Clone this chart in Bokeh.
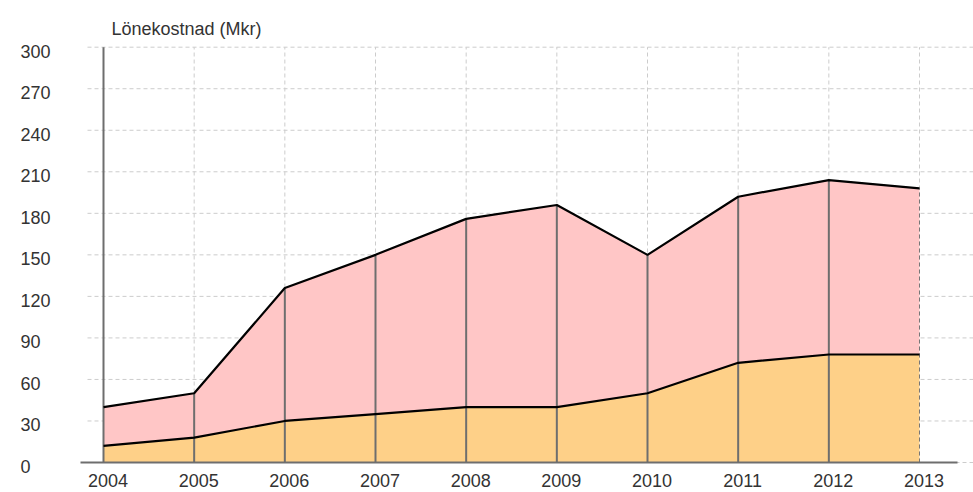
from bokeh.plotting import figure
from bokeh.models import ColumnDataSource, LabelSet, Label
from bokeh.core.properties import value
from bokeh.embed import file_html
from bokeh.resources import INLINE

# ---- data ----
years = [2004, 2005, 2006, 2007, 2008, 2009, 2010, 2011, 2012, 2013]
lower = [12, 18, 30, 35, 40, 40, 50, 72, 78, 78]          # orange series
upper = [28, 32, 96, 115, 136, 146, 100, 120, 126, 120]   # pink series (stacked on top)
y_ticks = [0, 30, 60, 90, 120, 150, 180, 210, 240, 270, 300]
x_labels = [str(y) for y in years]
title_text = "Lönekostnad (Mkr)"

total = [a + b for a, b in zip(lower, upper)]

# ---- layout constants ----
W, H = 973, 492
FONT = "Liberation Sans"
TXT = "#333333"
GRID = "#cccccc"
AX = "#6e6e6e"

# frame covers the whole canvas; map so that year0 sits at 103px and 0 at 462px
px_per_year = 90.667
x_start = years[0] - 103 / px_per_year
x_end = x_start + W / px_per_year
px_per_unit = 415.3 / 300.0
y_start = -(H - 462) / px_per_unit
y_end = 462 / px_per_unit

p = figure(width=W, height=H, x_range=(x_start, x_end), y_range=(y_start, y_end),
           output_backend="svg", toolbar_location=None, title=None,
           min_border_left=0, min_border_right=0, min_border_top=0, min_border_bottom=0)
p.outline_line_color = None
p.xaxis.visible = False
p.yaxis.visible = False
p.xgrid.visible = False
p.ygrid.visible = False
p.background_fill_color = "white"
p.border_fill_color = "white"

# horizontal dashed grid (from 87px to right edge)
gx0 = x_start + 87 / px_per_year
p.segment(x0=[gx0] * len(y_ticks), y0=y_ticks, x1=[x_end] * len(y_ticks), y1=y_ticks,
          line_color=GRID, line_width=1, line_dash="4 3")
# vertical dashed grid
p.segment(x0=years, y0=[0] * len(years), x1=years, y1=[y_ticks[-1]] * len(years),
          line_color=GRID, line_width=1, line_dash="4 3")

src = ColumnDataSource(dict(x=years, lower=lower, total=total, zero=[0] * len(years)))
p.varea(x="x", y1="zero", y2="lower", source=src, fill_color="#fed088")
p.varea(x="x", y1="lower", y2="total", source=src, fill_color="#ffc6c6")

# drop lines
p.segment(x0=years[1:-1], y0=[0] * (len(years) - 2), x1=years[1:-1], y1=total[1:-1],
          line_color=AX, line_width=2)
p.segment(x0=[years[-1]], y0=[0], x1=[years[-1]], y1=[total[-1]],
          line_color="#777777", line_width=1, line_dash="4 3")
# vertical axis line at first year
p.segment(x0=[years[0]], y0=[0], x1=[years[0]], y1=[y_ticks[-1]], line_color=AX, line_width=2)

# series boundary lines
p.line(years, total, line_color="black", line_width=2.2)
p.line(years, lower, line_color="black", line_width=2.2)

# x axis line (80px .. 957px)
p.segment(x0=[x_start + 80 / px_per_year], y0=[0], x1=[x_start + 957 / px_per_year], y1=[0],
          line_color=AX, line_width=2)

# y tick labels (left aligned at 20px)
ylab_x = x_start + 20 / px_per_year
ysrc = ColumnDataSource(dict(x=[ylab_x] * len(y_ticks), y=y_ticks, t=[str(v) for v in y_ticks]))
p.add_layout(LabelSet(x="x", y="y", text="t", source=ysrc, text_align="left", text_baseline="middle",
                      y_offset=-4, text_font=value(FONT), text_font_size=value("18px"),
                      text_color=value(TXT)))

# x tick labels
xsrc = ColumnDataSource(dict(x=years, y=[0] * len(years), t=x_labels))
p.add_layout(LabelSet(x="x", y="y", text="t", source=xsrc, text_align="center", text_baseline="middle",
                      x_offset=4.5, y_offset=-18, text_font=value(FONT), text_font_size=value("18px"),
                      text_color=value(TXT)))

# title label
p.add_layout(Label(x=x_start + 111 / px_per_year, y=(462 - 28.3) / px_per_unit, text=title_text,
                   text_align="left", text_baseline="alphabetic",
                   text_font=FONT, text_font_size="18px", text_color=TXT))

open("out.html", "w").write(file_html(p, INLINE))
